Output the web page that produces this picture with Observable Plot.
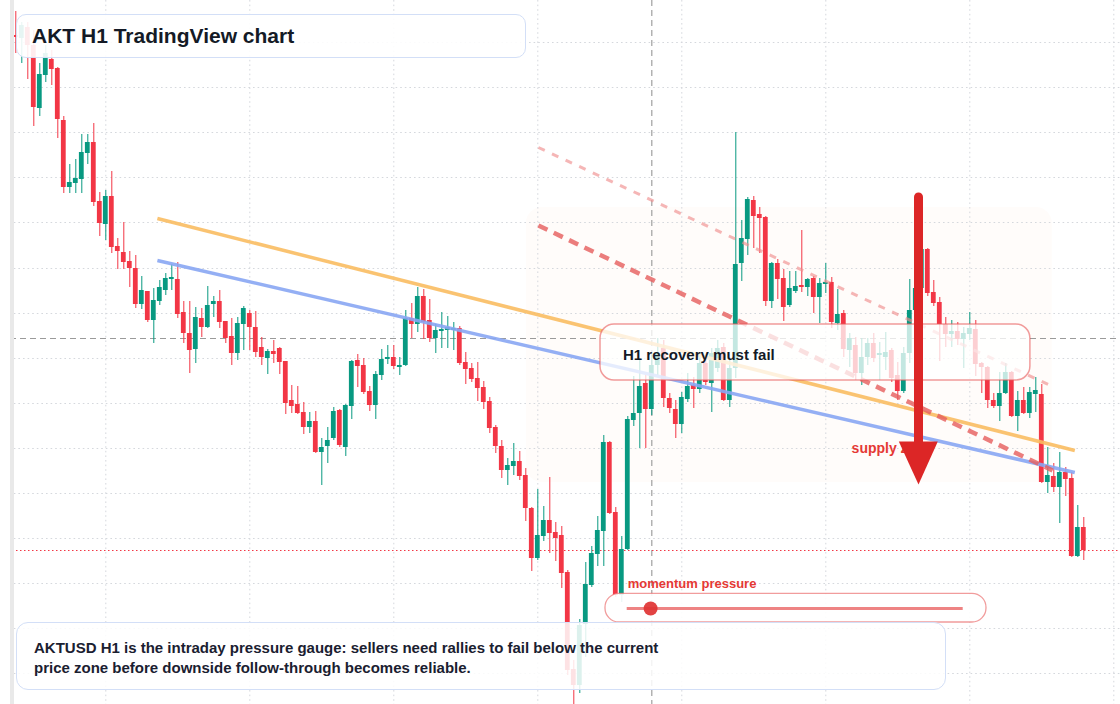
<!DOCTYPE html>
<html>
<head>
<meta charset="utf-8">
<script src="https://cdn.jsdelivr.net/npm/d3@7"></script>
<script src="https://cdn.jsdelivr.net/npm/@observablehq/plot@0.6"></script>
<style>
  html, body { margin: 0; padding: 0; background: #fff; }
  #chart { position: relative; width: 1120px; height: 704px; overflow: hidden;
           font-family: "Liberation Sans", Arial, Helvetica, sans-serif; }
  #chart svg { display: block; }
  .strip { position: absolute; top: 0; height: 704px; }
  .panel { position: absolute; box-sizing: border-box; border: 1.5px solid #d3dff7; }
  .label { position: absolute; white-space: nowrap; font-weight: bold; color: #141a26; }
</style>
</head>
<body>
<div id="chart"></div>
<script>
// AKTUSD, 1-hour candles (oldest first)
const openP = [
  1.265, 1.262, 1.273, 1.255, 1.192, 1.225, 1.241, 1.232, 1.180, 1.113,
  1.117, 1.121, 1.147, 1.158, 1.099, 1.076, 1.104, 1.054, 1.048, 1.039,
  1.032, 0.996, 1.009, 0.980, 0.999, 1.010, 1.021, 1.021, 0.988, 0.967,
  0.951, 0.982, 0.973, 0.996, 0.999, 0.979, 0.964, 0.947, 0.976, 0.987,
  0.973, 0.953, 0.942, 0.949, 0.952, 0.939, 0.900, 0.896, 0.888, 0.873,
  0.879, 0.848, 0.854, 0.862, 0.890, 0.853, 0.894, 0.940, 0.935, 0.909,
  0.895, 0.925, 0.941, 0.943, 0.933, 0.935, 0.982, 0.976, 1.004, 0.980,
  0.962, 0.969, 0.970, 0.970, 0.972, 0.938, 0.932, 0.922, 0.913, 0.899,
  0.873, 0.854, 0.830, 0.834, 0.839, 0.825, 0.792, 0.742, 0.764, 0.780,
  0.768, 0.765, 0.728, 0.631, 0.615, 0.676, 0.715, 0.746, 0.769, 0.858,
  0.788, 0.705, 0.751, 0.880, 0.887, 0.917, 0.891, 0.935, 0.952, 0.902,
  0.891, 0.876, 0.901, 0.915, 0.911, 0.937, 0.917, 0.932, 0.953, 0.900,
  0.932, 1.037, 1.061, 1.100, 1.086, 1.083, 0.999, 1.037, 1.022, 0.995,
  1.009, 1.015, 1.013, 1.022, 1.003, 1.016, 1.018, 0.977, 0.987, 0.950,
  0.955, 0.927, 0.943, 0.957, 0.945, 0.943, 0.950, 0.925, 0.909, 0.947,
  0.990, 1.012, 1.051, 1.008, 0.998, 0.976, 0.966, 0.969, 0.961, 0.966,
  0.971, 0.937, 0.933, 0.900, 0.894, 0.907, 0.928, 0.884, 0.900, 0.887,
  0.906, 0.906, 0.818, 0.824, 0.813, 0.828, 0.822, 0.744, 0.773
];
const highP = [
  1.289, 1.278, 1.278, 1.270, 1.237, 1.255, 1.250, 1.233, 1.184, 1.136,
  1.141, 1.166, 1.166, 1.177, 1.108, 1.110, 1.129, 1.062, 1.078, 1.049,
  1.045, 1.024, 1.009, 1.012, 1.020, 1.027, 1.036, 1.038, 0.999, 0.999,
  0.993, 0.992, 1.014, 1.004, 1.010, 0.979, 0.982, 0.983, 0.994, 0.990,
  0.989, 0.963, 0.951, 0.960, 0.953, 0.939, 0.915, 0.914, 0.898, 0.888,
  0.889, 0.862, 0.873, 0.893, 0.891, 0.896, 0.940, 0.946, 0.942, 0.914,
  0.929, 0.951, 0.955, 0.955, 0.943, 0.990, 0.997, 1.013, 1.011, 1.001,
  0.976, 0.988, 0.984, 0.978, 0.974, 0.948, 0.937, 0.938, 0.919, 0.903,
  0.875, 0.860, 0.842, 0.857, 0.849, 0.832, 0.793, 0.811, 0.794, 0.823,
  0.778, 0.774, 0.730, 0.640, 0.681, 0.738, 0.754, 0.784, 0.865, 0.859,
  0.793, 0.764, 0.884, 0.924, 0.942, 0.925, 0.945, 0.962, 0.960, 0.907,
  0.900, 0.908, 0.927, 0.923, 0.947, 0.945, 0.952, 0.960, 0.957, 0.940,
  1.168, 1.080, 1.103, 1.104, 1.093, 1.084, 1.038, 1.041, 1.031, 1.029,
  1.029, 1.070, 1.022, 1.024, 1.022, 1.037, 1.023, 1.011, 0.990, 0.967,
  0.963, 0.962, 0.962, 0.967, 0.958, 0.968, 0.952, 0.938, 0.953, 1.021,
  1.015, 1.055, 1.052, 1.020, 1.003, 0.983, 0.980, 0.978, 0.973, 0.988,
  0.980, 0.938, 0.934, 0.907, 0.928, 0.937, 0.929, 0.909, 0.913, 0.913,
  0.923, 0.916, 0.853, 0.837, 0.848, 0.833, 0.828, 0.795, 0.783
];
const lowP = [
  1.247, 1.237, 1.221, 1.174, 1.184, 1.218, 1.215, 1.162, 1.107, 1.107,
  1.107, 1.107, 1.136, 1.094, 1.064, 1.060, 1.047, 1.031, 1.031, 1.013,
  0.992, 0.991, 0.978, 0.957, 0.995, 1.005, 1.010, 0.982, 0.957, 0.927,
  0.937, 0.963, 0.972, 0.983, 0.972, 0.957, 0.935, 0.940, 0.950, 0.950,
  0.943, 0.935, 0.926, 0.937, 0.926, 0.886, 0.887, 0.886, 0.866, 0.867,
  0.847, 0.815, 0.837, 0.860, 0.853, 0.844, 0.881, 0.913, 0.906, 0.889,
  0.881, 0.920, 0.936, 0.931, 0.925, 0.934, 0.962, 0.968, 0.961, 0.958,
  0.947, 0.952, 0.952, 0.950, 0.935, 0.916, 0.918, 0.899, 0.891, 0.867,
  0.847, 0.822, 0.815, 0.825, 0.820, 0.779, 0.729, 0.740, 0.759, 0.747,
  0.739, 0.712, 0.625, 0.594, 0.607, 0.643, 0.713, 0.734, 0.734, 0.786,
  0.703, 0.698, 0.750, 0.874, 0.852, 0.852, 0.885, 0.925, 0.893, 0.887,
  0.862, 0.867, 0.898, 0.892, 0.907, 0.915, 0.888, 0.928, 0.899, 0.893,
  0.922, 1.019, 1.045, 1.052, 1.047, 0.994, 0.992, 1.001, 0.979, 0.993,
  1.007, 1.008, 1.004, 0.987, 0.977, 1.007, 0.972, 0.970, 0.943, 0.933,
  0.920, 0.915, 0.935, 0.938, 0.920, 0.930, 0.918, 0.900, 0.907, 0.937,
  0.980, 1.008, 1.004, 0.994, 0.939, 0.953, 0.953, 0.955, 0.932, 0.960,
  0.924, 0.907, 0.892, 0.892, 0.879, 0.906, 0.883, 0.869, 0.886, 0.882,
  0.888, 0.817, 0.807, 0.808, 0.777, 0.804, 0.743, 0.743, 0.740
];
const closeP = [
  1.263, 1.275, 1.255, 1.193, 1.226, 1.247, 1.231, 1.181, 1.113, 1.118,
  1.122, 1.148, 1.158, 1.098, 1.077, 1.104, 1.053, 1.049, 1.038, 1.032,
  0.996, 1.010, 0.980, 1.000, 1.013, 1.022, 1.023, 0.986, 0.967, 0.950,
  0.983, 0.973, 0.995, 0.999, 0.978, 0.962, 0.947, 0.977, 0.992, 0.973,
  0.948, 0.943, 0.949, 0.946, 0.938, 0.897, 0.894, 0.887, 0.873, 0.879,
  0.848, 0.853, 0.860, 0.889, 0.855, 0.895, 0.939, 0.934, 0.908, 0.895,
  0.926, 0.941, 0.943, 0.934, 0.935, 0.982, 0.976, 1.004, 0.978, 0.962,
  0.970, 0.971, 0.973, 0.972, 0.937, 0.931, 0.921, 0.912, 0.898, 0.872,
  0.854, 0.830, 0.835, 0.839, 0.824, 0.792, 0.742, 0.765, 0.780, 0.767,
  0.762, 0.727, 0.630, 0.615, 0.675, 0.716, 0.747, 0.770, 0.858, 0.787,
  0.705, 0.751, 0.881, 0.887, 0.914, 0.891, 0.935, 0.947, 0.902, 0.892,
  0.876, 0.903, 0.914, 0.911, 0.937, 0.918, 0.947, 0.952, 0.900, 0.932,
  1.036, 1.062, 1.101, 1.084, 1.082, 0.999, 1.037, 1.021, 0.993, 1.012,
  1.014, 1.013, 1.021, 1.003, 1.017, 1.018, 0.978, 0.986, 0.951, 0.962,
  0.927, 0.943, 0.957, 0.942, 0.947, 0.948, 0.922, 0.909, 0.947, 0.990,
  1.012, 1.051, 1.007, 0.997, 0.976, 0.966, 0.969, 0.961, 0.967, 0.972,
  0.936, 0.933, 0.900, 0.894, 0.907, 0.928, 0.884, 0.900, 0.887, 0.908,
  0.910, 0.818, 0.825, 0.813, 0.828, 0.821, 0.744, 0.773, 0.750
];

// Price grid levels and daily session boundaries (bar index)
const gridPrices = [1.258, 1.213, 1.168, 1.123, 1.078, 1.032, 0.987, 0.942, 0.897, 0.852, 0.807, 0.762, 0.717, 0.672, 0.627];
const dayStarts = [15, 39, 63, 87, 111, 135, 159, 183];

// Crosshair position
const crossBar = 106;
const crossPrice = 0.962;

// Drawn trend lines: [bar, price] endpoints
const resistanceOrange = [[23.6, 1.082], [176.5, 0.850]];
const resistanceBlue = [[23.6, 1.040], [176.5, 0.828]];
const channelLower = [[87.1, 1.075], [172.8, 0.830]];
const channelUpper = [[87.1, 1.153], [172.8, 0.914]];

// Supply zone and annotations
const supplyZone = {x1: 85.1, x2: 172.75, top: 1.093, bottom: 0.818};
const recoveryBox = {x1: 97.45, x2: 169.1, top: 0.976, bottom: 0.920, textX: 101.2, textY: 0.9458};
const momentum = {x1: 98.28, x2: 161.78, top: 0.7067, bottom: 0.678,
                  trackX1: 101.9, trackX2: 157.9, level: 0.692, value: 105.8,
                  labelX: 102.0, labelY: 0.717};
const supplyLabel = {x: 139.3, y: 0.8515};
const downArrow = {x: 150.45, top: 1.103, neck: 0.855, headTop: 0.859, tip: 0.816, headLeft: 147.17, headRight: 153.67};

const candles = openP.map((o, i) => ({i, open: o, high: highP[i], low: lowP[i], close: closeP[i]}));
const rising = candles.filter(d => d.close >= d.open);
const falling = candles.filter(d => d.close < d.open);
const lastClose = closeP[closeP.length - 1];

const UP = "#089981", DOWN = "#f23645";
const font = '"Liberation Sans", Arial, Helvetica, sans-serif';

const chart = Plot.plot({
  width: 1120,
  height: 704,
  margin: 0,
  x: {domain: [-15.3 / 6, (1120 - 15.3) / 6], axis: null},
  y: {domain: [0.596, 1.3], axis: null},
  style: {fontFamily: font, background: "transparent"},
  marks: [
    // supply zone shading
    Plot.rect([supplyZone], {x1: "x1", x2: "x2", y1: "top", y2: "bottom", fill: "#f59e5b", fillOpacity: 0.028, rx: 16}),
    // dotted grid
    Plot.ruleY(gridPrices, {stroke: "#d5d8dd", strokeWidth: 1, strokeDasharray: "1.6,3"}),
    Plot.ruleX(dayStarts, {stroke: "#d5d8dd", strokeWidth: 1, strokeDasharray: "1.6,3"}),
    // crosshair and last price
    Plot.ruleY([crossPrice], {stroke: "#9a9a9a", strokeWidth: 1.2, strokeDasharray: "6,4"}),
    Plot.ruleX([crossBar], {stroke: "#a0a0a0", strokeWidth: 1.2, strokeDasharray: "6,4"}),
    Plot.ruleY([lastClose], {stroke: DOWN, strokeWidth: 1, strokeDasharray: "1.5,2.5"}),
    // candles: wicks then bodies
    Plot.ruleX(rising, {x: "i", y1: "low", y2: "high", stroke: UP, strokeWidth: 1}),
    Plot.ruleX(falling, {x: "i", y1: "low", y2: "high", stroke: DOWN, strokeWidth: 1}),
    Plot.rect(rising, {x1: d => d.i - 0.4, x2: d => d.i + 0.4, y1: "open", y2: "close", fill: UP}),
    Plot.rect(falling, {x1: d => d.i - 0.4, x2: d => d.i + 0.4, y1: "open", y2: "close", fill: DOWN}),
    // trend lines
    Plot.line(resistanceOrange, {stroke: "#f9bd62", strokeWidth: 3.5, strokeOpacity: 0.9, strokeLinecap: "butt"}),
    Plot.line(resistanceBlue, {stroke: "#88a6f3", strokeWidth: 3.5, strokeOpacity: 0.9, strokeLinecap: "butt"}),
    Plot.line(channelLower, {stroke: "#e65c5c", strokeWidth: 4.5, strokeOpacity: 0.8, strokeDasharray: "10,7", strokeLinecap: "butt"}),
    Plot.line(channelUpper, {stroke: "#ef8f8f", strokeWidth: 3, strokeOpacity: 0.65, strokeDasharray: "7,8", strokeLinecap: "butt"}),
    // recovery callout
    Plot.rect([recoveryBox], {x1: "x1", x2: "x2", y1: "top", y2: "bottom", fill: "#ffffff", fillOpacity: 0.76,
      stroke: "#e85a5a", strokeOpacity: 0.6, strokeWidth: 1.5, rx: 14}),
    Plot.text([recoveryBox], {x: "textX", y: "textY", text: () => "H1 recovery must fail", textAnchor: "start",
      fontSize: 15, fontWeight: "bold", fill: "#141a26"}),
    // momentum gauge
    Plot.rect([momentum], {x1: "x1", x2: "x2", y1: "top", y2: "bottom", fill: "#ffffff", fillOpacity: 0.9,
      stroke: "#e85a5a", strokeOpacity: 0.6, strokeWidth: 1.3, rx: 14}),
    Plot.ruleY([momentum], {x1: "trackX1", x2: "trackX2", y: "level", stroke: "#e85a5a", strokeOpacity: 0.75, strokeWidth: 3}),
    Plot.dot([momentum], {x: "value", y: "level", r: 7, fill: "#e03333", fillOpacity: 0.92}),
    Plot.text([momentum], {x: "labelX", y: "labelY", text: () => "momentum pressure", textAnchor: "start",
      fontSize: 13, fontWeight: "bold", fill: "#e53935"}),
    // supply zone label and downside arrow
    Plot.text([supplyLabel], {x: "x", y: "y", text: () => "supply zone", textAnchor: "start",
      fontSize: 14, fontWeight: "bold", fill: "#e53935"}),
    Plot.ruleX([downArrow], {x: "x", y1: "top", y2: "neck", stroke: "#dc2626", strokeWidth: 9, strokeLinecap: "round"}),
    Plot.line([[downArrow.headLeft, downArrow.headTop], [downArrow.headRight, downArrow.headTop], [downArrow.x, downArrow.tip], [downArrow.headLeft, downArrow.headTop]],
      {fill: "#dc2626", stroke: "none"})
  ]
});

const root = document.getElementById("chart");
root.appendChild(chart);

function add(cls, css, html) {
  const el = document.createElement("div");
  el.className = cls;
  el.style.cssText = css;
  if (html) el.innerHTML = html;
  root.appendChild(el);
  return el;
}

// left edge of the pane
add("strip", "left:0;width:10px;background:#ffffff;");
add("strip", "left:10px;width:4px;background:#e9e9e9;");

// title
add("panel", "left:16px;top:14px;width:510px;height:44px;border-radius:10px;background:rgba(255,255,255,0.9);");
add("label", "left:32px;top:25.2px;font-size:21px;line-height:21px;", "AKT H1 TradingView chart");

// caption
add("panel", "left:16px;top:622px;width:930px;height:68px;border-radius:12px;background:rgba(255,255,255,0.86);");
add("label", "left:34px;top:637.8px;font-size:15px;line-height:20px;color:#1a2030;",
  "AKTUSD H1 is the intraday pressure gauge: sellers need rallies to fail below the current<br>price zone before downside follow-through becomes reliable.");
</script>
</body>
</html>
